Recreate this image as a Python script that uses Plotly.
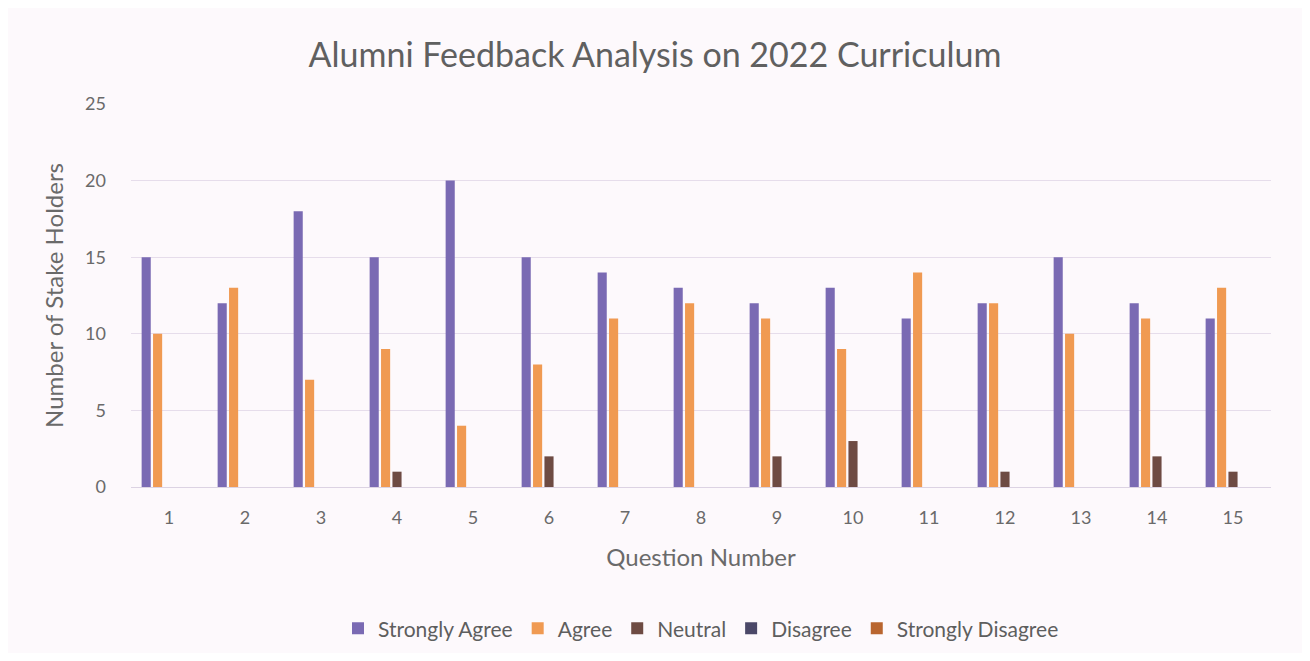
import plotly.graph_objects as go

questions = [str(i) for i in range(1, 16)]
strongly_agree = [15, 12, 18, 15, 20, 15, 14, 13, 12, 13, 11, 12, 15, 12, 11]
agree = [10, 13, 7, 9, 4, 8, 11, 12, 11, 9, 14, 12, 10, 11, 13]
neutral = [0, 0, 0, 1, 0, 2, 0, 0, 2, 3, 0, 1, 0, 2, 1]
disagree = [0] * 15
strongly_disagree = [0] * 15

series_names = ["Strongly Agree", "Agree", "Neutral", "Disagree", "Strongly Disagree"]
series_values = [strongly_agree, agree, neutral, disagree, strongly_disagree]
colors = ["#7A6AB3", "#F09A52", "#6E4B43", "#4B4868", "#B9652F"]

fig = go.Figure()
for name, vals, c in zip(series_names, series_values, colors):
    fig.add_trace(go.Bar(x=questions, y=vals, name=name, marker=dict(color=c, line=dict(width=0))))

font_family = "Lato, 'Open Sans', sans-serif"
fig.update_layout(
    width=1294, height=645,
    paper_bgcolor="#FDF9FC", plot_bgcolor="#FDF9FC",
    barmode="group", bargap=0.25, bargroupgap=0.2,
    margin=dict(l=123, r=31, t=96, b=166, autoexpand=False),
    title=dict(text="Alumni Feedback Analysis on 2022 Curriculum", x=0.5, xanchor="center",
               y=0.927, yanchor="middle",
               font=dict(family=font_family, size=34, color="#606060")),
    font=dict(family=font_family, color="#6A6A6A"),
    legend=dict(orientation="h", x=0.5, xanchor="center", y=-0.37, yanchor="middle",
                font=dict(size=21, color="#5E5E5E"), itemwidth=30, traceorder="normal"),
    xaxis=dict(title=dict(text="Question Number", font=dict(size=24, color="#6A6A6A"), standoff=22),
               tickfont=dict(size=18, color="#6A6A6A"), showline=True, linecolor="#DCD3E3",
               ticks="", showgrid=False, ticklabelstandoff=14, automargin=False),
    yaxis=dict(title=dict(text="Number of Stake Holders", font=dict(size=24, color="#6A6A6A"), standoff=14),
               range=[0, 25], dtick=5, tickfont=dict(size=18, color="#6A6A6A"),
               gridcolor="#E6DDEB", gridwidth=1, zeroline=False, ticks="", ticklabelstandoff=24,
               automargin=False),
)

fig.write_html("out.html")
